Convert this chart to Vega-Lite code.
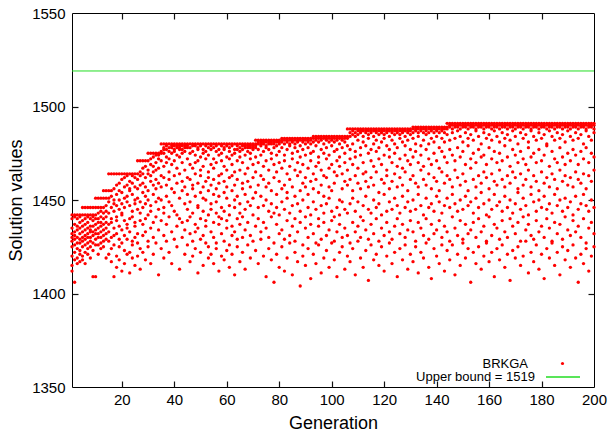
{"$schema":"https://vega.github.io/schema/vega-lite/v6.json","width":522,"height":374,"autosize":{"type":"none"},"padding":{"left":72,"top":13,"right":14,"bottom":49},"background":"white","config":{"view":{"stroke":"#000","strokeWidth":1},"font":"Liberation Sans","axis":{"domain":false,"grid":false,"labelColor":"#000","labelFont":"Liberation Sans","labelFontSize":15,"titleFont":"Liberation Sans","titleFontSize":18,"titleFontWeight":"normal","titleColor":"#000"},"legend":{"labelFont":"Liberation Sans","labelFontSize":13,"labelColor":"#000","labelAlign":"right","padding":0,"title":null,"orient":"none"}},
"data":{"values":[
{"g":1,"v":1442},{"g":1,"v":1440},{"g":1,"v":1435},{"g":1,"v":1432},{"g":1,"v":1430},{"g":1,"v":1428},{"g":1,"v":1425},{"g":1,"v":1420},{"g":1,"v":1415},{"g":1,"v":1412},
{"g":2,"v":1442},{"g":2,"v":1441},{"g":2,"v":1437},{"g":2,"v":1433},{"g":2,"v":1431},{"g":2,"v":1429},{"g":2,"v":1426},{"g":2,"v":1422},{"g":2,"v":1418},{"g":2,"v":1406},
{"g":3,"v":1442},{"g":3,"v":1440},{"g":3,"v":1436},{"g":3,"v":1434},{"g":3,"v":1430},{"g":3,"v":1427},{"g":3,"v":1424},{"g":3,"v":1419},{"g":3,"v":1416},
{"g":4,"v":1442},{"g":4,"v":1441},{"g":4,"v":1438},{"g":4,"v":1435},{"g":4,"v":1432},{"g":4,"v":1429},{"g":4,"v":1427},{"g":4,"v":1423},{"g":4,"v":1421},{"g":4,"v":1417},
{"g":5,"v":1446},{"g":5,"v":1442},{"g":5,"v":1439},{"g":5,"v":1436},{"g":5,"v":1433},{"g":5,"v":1430},{"g":5,"v":1428},{"g":5,"v":1425},{"g":5,"v":1420},{"g":5,"v":1418},
{"g":6,"v":1446},{"g":6,"v":1442},{"g":6,"v":1440},{"g":6,"v":1437},{"g":6,"v":1434},{"g":6,"v":1431},{"g":6,"v":1429},{"g":6,"v":1426},{"g":6,"v":1422},{"g":6,"v":1416},
{"g":7,"v":1446},{"g":7,"v":1442},{"g":7,"v":1441},{"g":7,"v":1438},{"g":7,"v":1435},{"g":7,"v":1432},{"g":7,"v":1430},{"g":7,"v":1427},{"g":7,"v":1424},{"g":7,"v":1421},
{"g":8,"v":1446},{"g":8,"v":1442},{"g":8,"v":1440},{"g":8,"v":1436},{"g":8,"v":1434},{"g":8,"v":1433},{"g":8,"v":1430},{"g":8,"v":1428},{"g":8,"v":1425},{"g":8,"v":1419},
{"g":9,"v":1446},{"g":9,"v":1442},{"g":9,"v":1441},{"g":9,"v":1439},{"g":9,"v":1436},{"g":9,"v":1433},{"g":9,"v":1431},{"g":9,"v":1427},{"g":9,"v":1423},{"g":9,"v":1409},
{"g":10,"v":1451},{"g":10,"v":1446},{"g":10,"v":1442},{"g":10,"v":1440},{"g":10,"v":1437},{"g":10,"v":1434},{"g":10,"v":1432},{"g":10,"v":1429},{"g":10,"v":1426},{"g":10,"v":1409},
{"g":11,"v":1451},{"g":11,"v":1446},{"g":11,"v":1443},{"g":11,"v":1440},{"g":11,"v":1438},{"g":11,"v":1435},{"g":11,"v":1432},{"g":11,"v":1430},{"g":11,"v":1426},{"g":11,"v":1421},
{"g":12,"v":1451},{"g":12,"v":1446},{"g":12,"v":1444},{"g":12,"v":1441},{"g":12,"v":1438},{"g":12,"v":1436},{"g":12,"v":1433},{"g":12,"v":1430},{"g":12,"v":1427},{"g":12,"v":1424},
{"g":13,"v":1455},{"g":13,"v":1451},{"g":13,"v":1446},{"g":13,"v":1443},{"g":13,"v":1440},{"g":13,"v":1437},{"g":13,"v":1434},{"g":13,"v":1431},{"g":13,"v":1428},{"g":13,"v":1425},
{"g":14,"v":1455},{"g":14,"v":1451},{"g":14,"v":1447},{"g":14,"v":1444},{"g":14,"v":1441},{"g":14,"v":1438},{"g":14,"v":1435},{"g":14,"v":1432},{"g":14,"v":1429},{"g":14,"v":1419},
{"g":15,"v":1464},{"g":15,"v":1455},{"g":15,"v":1451},{"g":15,"v":1449},{"g":15,"v":1443},{"g":15,"v":1437},{"g":15,"v":1433},{"g":15,"v":1428},{"g":15,"v":1421},
{"g":16,"v":1464},{"g":16,"v":1455},{"g":16,"v":1452},{"g":16,"v":1446},{"g":16,"v":1440},{"g":16,"v":1438},{"g":16,"v":1430},{"g":16,"v":1424},{"g":16,"v":1417},
{"g":17,"v":1464},{"g":17,"v":1456},{"g":17,"v":1450},{"g":17,"v":1448},{"g":17,"v":1444},{"g":17,"v":1435},{"g":17,"v":1431},{"g":17,"v":1426},{"g":17,"v":1409},
{"g":18,"v":1464},{"g":18,"v":1458},{"g":18,"v":1453},{"g":18,"v":1447},{"g":18,"v":1441},{"g":18,"v":1439},{"g":18,"v":1432},{"g":18,"v":1420},{"g":18,"v":1414},
{"g":19,"v":1464},{"g":19,"v":1459},{"g":19,"v":1455},{"g":19,"v":1450},{"g":19,"v":1445},{"g":19,"v":1436},{"g":19,"v":1429},{"g":19,"v":1425},{"g":19,"v":1418},
{"g":20,"v":1464},{"g":20,"v":1461},{"g":20,"v":1454},{"g":20,"v":1448},{"g":20,"v":1443},{"g":20,"v":1442},{"g":20,"v":1434},{"g":20,"v":1427},{"g":20,"v":1412},
{"g":21,"v":1464},{"g":21,"v":1462},{"g":21,"v":1457},{"g":21,"v":1451},{"g":21,"v":1446},{"g":21,"v":1439},{"g":21,"v":1431},{"g":21,"v":1423},{"g":21,"v":1416},
{"g":22,"v":1464},{"g":22,"v":1463},{"g":22,"v":1458},{"g":22,"v":1452},{"g":22,"v":1449},{"g":22,"v":1437},{"g":22,"v":1435},{"g":22,"v":1429},{"g":22,"v":1421},
{"g":23,"v":1464},{"g":23,"v":1460},{"g":23,"v":1456},{"g":23,"v":1455},{"g":23,"v":1447},{"g":23,"v":1440},{"g":23,"v":1433},{"g":23,"v":1422},{"g":23,"v":1411},
{"g":24,"v":1464},{"g":24,"v":1463},{"g":24,"v":1459},{"g":24,"v":1453},{"g":24,"v":1444},{"g":24,"v":1441},{"g":24,"v":1428},{"g":24,"v":1426},{"g":24,"v":1419},
{"g":25,"v":1464},{"g":25,"v":1462},{"g":25,"v":1457},{"g":25,"v":1450},{"g":25,"v":1448},{"g":25,"v":1438},{"g":25,"v":1436},{"g":25,"v":1430},{"g":25,"v":1415},
{"g":26,"v":1471},{"g":26,"v":1464},{"g":26,"v":1461},{"g":26,"v":1456},{"g":26,"v":1451},{"g":26,"v":1445},{"g":26,"v":1432},{"g":26,"v":1427},{"g":26,"v":1420},
{"g":27,"v":1471},{"g":27,"v":1465},{"g":27,"v":1463},{"g":27,"v":1458},{"g":27,"v":1449},{"g":27,"v":1443},{"g":27,"v":1439},{"g":27,"v":1424},{"g":27,"v":1413},
{"g":28,"v":1471},{"g":28,"v":1467},{"g":28,"v":1464},{"g":28,"v":1459},{"g":28,"v":1454},{"g":28,"v":1446},{"g":28,"v":1437},{"g":28,"v":1431},{"g":28,"v":1422},
{"g":29,"v":1471},{"g":29,"v":1468},{"g":29,"v":1462},{"g":29,"v":1457},{"g":29,"v":1452},{"g":29,"v":1448},{"g":29,"v":1440},{"g":29,"v":1433},{"g":29,"v":1418},
{"g":30,"v":1475},{"g":30,"v":1471},{"g":30,"v":1466},{"g":30,"v":1464},{"g":30,"v":1455},{"g":30,"v":1450},{"g":30,"v":1442},{"g":30,"v":1428},{"g":30,"v":1425},
{"g":31,"v":1475},{"g":31,"v":1472},{"g":31,"v":1469},{"g":31,"v":1463},{"g":31,"v":1460},{"g":31,"v":1447},{"g":31,"v":1444},{"g":31,"v":1435},{"g":31,"v":1416},
{"g":32,"v":1475},{"g":32,"v":1473},{"g":32,"v":1468},{"g":32,"v":1465},{"g":32,"v":1458},{"g":32,"v":1453},{"g":32,"v":1438},{"g":32,"v":1430},{"g":32,"v":1421},
{"g":33,"v":1475},{"g":33,"v":1474},{"g":33,"v":1470},{"g":33,"v":1466},{"g":33,"v":1461},{"g":33,"v":1456},{"g":33,"v":1449},{"g":33,"v":1441},{"g":33,"v":1427},
{"g":34,"v":1475},{"g":34,"v":1474},{"g":34,"v":1472},{"g":34,"v":1467},{"g":34,"v":1459},{"g":34,"v":1451},{"g":34,"v":1445},{"g":34,"v":1434},{"g":34,"v":1410},
{"g":35,"v":1480},{"g":35,"v":1476},{"g":35,"v":1475},{"g":35,"v":1471},{"g":35,"v":1463},{"g":35,"v":1457},{"g":35,"v":1450},{"g":35,"v":1439},{"g":35,"v":1424},
{"g":36,"v":1480},{"g":36,"v":1478},{"g":36,"v":1477},{"g":36,"v":1475},{"g":36,"v":1468},{"g":36,"v":1462},{"g":36,"v":1446},{"g":36,"v":1443},{"g":36,"v":1431},{"g":36,"v":1419},
{"g":37,"v":1480},{"g":37,"v":1479},{"g":37,"v":1477},{"g":37,"v":1473},{"g":37,"v":1470},{"g":37,"v":1458},{"g":37,"v":1452},{"g":37,"v":1437},{"g":37,"v":1428},
{"g":38,"v":1480},{"g":38,"v":1478},{"g":38,"v":1476},{"g":38,"v":1472},{"g":38,"v":1465},{"g":38,"v":1461},{"g":38,"v":1449},{"g":38,"v":1441},{"g":38,"v":1422},
{"g":39,"v":1480},{"g":39,"v":1479},{"g":39,"v":1478},{"g":39,"v":1475},{"g":39,"v":1469},{"g":39,"v":1456},{"g":39,"v":1447},{"g":39,"v":1433},{"g":39,"v":1416},
{"g":40,"v":1480},{"g":40,"v":1479},{"g":40,"v":1477},{"g":40,"v":1476},{"g":40,"v":1471},{"g":40,"v":1463},{"g":40,"v":1454},{"g":40,"v":1444},{"g":40,"v":1429},
{"g":41,"v":1480},{"g":41,"v":1479},{"g":41,"v":1478},{"g":41,"v":1474},{"g":41,"v":1467},{"g":41,"v":1459},{"g":41,"v":1442},{"g":41,"v":1436},{"g":41,"v":1425},
{"g":42,"v":1480},{"g":42,"v":1479},{"g":42,"v":1478},{"g":42,"v":1477},{"g":42,"v":1473},{"g":42,"v":1464},{"g":42,"v":1451},{"g":42,"v":1440},{"g":42,"v":1413},
{"g":43,"v":1480},{"g":43,"v":1479},{"g":43,"v":1477},{"g":43,"v":1475},{"g":43,"v":1470},{"g":43,"v":1460},{"g":43,"v":1455},{"g":43,"v":1438},{"g":43,"v":1430},
{"g":44,"v":1480},{"g":44,"v":1479},{"g":44,"v":1478},{"g":44,"v":1476},{"g":44,"v":1466},{"g":44,"v":1457},{"g":44,"v":1448},{"g":44,"v":1434},{"g":44,"v":1421},
{"g":45,"v":1480},{"g":45,"v":1479},{"g":45,"v":1478},{"g":45,"v":1472},{"g":45,"v":1462},{"g":45,"v":1453},{"g":45,"v":1445},{"g":45,"v":1439},{"g":45,"v":1426},
{"g":46,"v":1480},{"g":46,"v":1478},{"g":46,"v":1475},{"g":46,"v":1469},{"g":46,"v":1461},{"g":46,"v":1449},{"g":46,"v":1441},{"g":46,"v":1432},{"g":46,"v":1417},
{"g":47,"v":1480},{"g":47,"v":1479},{"g":47,"v":1476},{"g":47,"v":1467},{"g":47,"v":1458},{"g":47,"v":1456},{"g":47,"v":1443},{"g":47,"v":1428},{"g":47,"v":1420},
{"g":48,"v":1480},{"g":48,"v":1479},{"g":48,"v":1474},{"g":48,"v":1470},{"g":48,"v":1464},{"g":48,"v":1452},{"g":48,"v":1437},{"g":48,"v":1433},{"g":48,"v":1424},
{"g":49,"v":1480},{"g":49,"v":1478},{"g":49,"v":1477},{"g":49,"v":1471},{"g":49,"v":1459},{"g":49,"v":1447},{"g":49,"v":1446},{"g":49,"v":1435},{"g":49,"v":1411},
{"g":50,"v":1480},{"g":50,"v":1479},{"g":50,"v":1473},{"g":50,"v":1466},{"g":50,"v":1463},{"g":50,"v":1454},{"g":50,"v":1440},{"g":50,"v":1429},{"g":50,"v":1422},
{"g":51,"v":1480},{"g":51,"v":1477},{"g":51,"v":1475},{"g":51,"v":1468},{"g":51,"v":1457},{"g":51,"v":1451},{"g":51,"v":1444},{"g":51,"v":1431},{"g":51,"v":1415},
{"g":52,"v":1480},{"g":52,"v":1479},{"g":52,"v":1476},{"g":52,"v":1472},{"g":52,"v":1460},{"g":52,"v":1450},{"g":52,"v":1439},{"g":52,"v":1436},{"g":52,"v":1427},
{"g":53,"v":1480},{"g":53,"v":1478},{"g":53,"v":1474},{"g":53,"v":1465},{"g":53,"v":1462},{"g":53,"v":1455},{"g":53,"v":1442},{"g":53,"v":1425},{"g":53,"v":1419},
{"g":54,"v":1480},{"g":54,"v":1479},{"g":54,"v":1477},{"g":54,"v":1469},{"g":54,"v":1458},{"g":54,"v":1448},{"g":54,"v":1445},{"g":54,"v":1433},{"g":54,"v":1421},
{"g":55,"v":1480},{"g":55,"v":1478},{"g":55,"v":1472},{"g":55,"v":1467},{"g":55,"v":1461},{"g":55,"v":1453},{"g":55,"v":1438},{"g":55,"v":1430},{"g":55,"v":1416},
{"g":56,"v":1480},{"g":56,"v":1479},{"g":56,"v":1476},{"g":56,"v":1470},{"g":56,"v":1456},{"g":56,"v":1449},{"g":56,"v":1443},{"g":56,"v":1427},{"g":56,"v":1424},
{"g":57,"v":1480},{"g":57,"v":1477},{"g":57,"v":1474},{"g":57,"v":1463},{"g":57,"v":1459},{"g":57,"v":1452},{"g":57,"v":1441},{"g":57,"v":1437},{"g":57,"v":1412},
{"g":58,"v":1480},{"g":58,"v":1479},{"g":58,"v":1475},{"g":58,"v":1471},{"g":58,"v":1464},{"g":58,"v":1446},{"g":58,"v":1440},{"g":58,"v":1432},{"g":58,"v":1420},
{"g":59,"v":1480},{"g":59,"v":1478},{"g":59,"v":1477},{"g":59,"v":1468},{"g":59,"v":1460},{"g":59,"v":1454},{"g":59,"v":1444},{"g":59,"v":1428},{"g":59,"v":1418},
{"g":60,"v":1480},{"g":60,"v":1479},{"g":60,"v":1473},{"g":60,"v":1466},{"g":60,"v":1457},{"g":60,"v":1451},{"g":60,"v":1439},{"g":60,"v":1435},{"g":60,"v":1423},
{"g":61,"v":1480},{"g":61,"v":1478},{"g":61,"v":1476},{"g":61,"v":1472},{"g":61,"v":1462},{"g":61,"v":1447},{"g":61,"v":1442},{"g":61,"v":1426},{"g":61,"v":1414},
{"g":62,"v":1480},{"g":62,"v":1479},{"g":62,"v":1474},{"g":62,"v":1469},{"g":62,"v":1463},{"g":62,"v":1455},{"g":62,"v":1436},{"g":62,"v":1431},{"g":62,"v":1421},
{"g":63,"v":1480},{"g":63,"v":1477},{"g":63,"v":1475},{"g":63,"v":1465},{"g":63,"v":1458},{"g":63,"v":1450},{"g":63,"v":1446},{"g":63,"v":1433},{"g":63,"v":1410},
{"g":64,"v":1480},{"g":64,"v":1479},{"g":64,"v":1477},{"g":64,"v":1471},{"g":64,"v":1461},{"g":64,"v":1452},{"g":64,"v":1440},{"g":64,"v":1429},{"g":64,"v":1425},
{"g":65,"v":1480},{"g":65,"v":1478},{"g":65,"v":1476},{"g":65,"v":1473},{"g":65,"v":1466},{"g":65,"v":1448},{"g":65,"v":1443},{"g":65,"v":1437},{"g":65,"v":1417},
{"g":66,"v":1480},{"g":66,"v":1479},{"g":66,"v":1477},{"g":66,"v":1470},{"g":66,"v":1459},{"g":66,"v":1456},{"g":66,"v":1441},{"g":66,"v":1430},{"g":66,"v":1422},
{"g":67,"v":1480},{"g":67,"v":1479},{"g":67,"v":1478},{"g":67,"v":1474},{"g":67,"v":1464},{"g":67,"v":1453},{"g":67,"v":1445},{"g":67,"v":1434},{"g":67,"v":1413},
{"g":68,"v":1480},{"g":68,"v":1479},{"g":68,"v":1478},{"g":68,"v":1476},{"g":68,"v":1467},{"g":68,"v":1460},{"g":68,"v":1449},{"g":68,"v":1438},{"g":68,"v":1426},
{"g":69,"v":1480},{"g":69,"v":1479},{"g":69,"v":1478},{"g":69,"v":1475},{"g":69,"v":1472},{"g":69,"v":1457},{"g":69,"v":1447},{"g":69,"v":1431},{"g":69,"v":1419},
{"g":70,"v":1480},{"g":70,"v":1479},{"g":70,"v":1478},{"g":70,"v":1477},{"g":70,"v":1469},{"g":70,"v":1462},{"g":70,"v":1451},{"g":70,"v":1442},{"g":70,"v":1428},
{"g":71,"v":1482},{"g":71,"v":1480},{"g":71,"v":1479},{"g":71,"v":1478},{"g":71,"v":1473},{"g":71,"v":1465},{"g":71,"v":1454},{"g":71,"v":1436},{"g":71,"v":1423},
{"g":72,"v":1482},{"g":72,"v":1481},{"g":72,"v":1480},{"g":72,"v":1477},{"g":72,"v":1470},{"g":72,"v":1458},{"g":72,"v":1446},{"g":72,"v":1440},{"g":72,"v":1416},
{"g":73,"v":1482},{"g":73,"v":1481},{"g":73,"v":1480},{"g":73,"v":1479},{"g":73,"v":1474},{"g":73,"v":1463},{"g":73,"v":1452},{"g":73,"v":1433},{"g":73,"v":1429},
{"g":74,"v":1482},{"g":74,"v":1481},{"g":74,"v":1480},{"g":74,"v":1476},{"g":74,"v":1468},{"g":74,"v":1461},{"g":74,"v":1447},{"g":74,"v":1438},{"g":74,"v":1420},
{"g":75,"v":1482},{"g":75,"v":1481},{"g":75,"v":1479},{"g":75,"v":1478},{"g":75,"v":1471},{"g":75,"v":1457},{"g":75,"v":1450},{"g":75,"v":1435},{"g":75,"v":1409},
{"g":76,"v":1482},{"g":76,"v":1481},{"g":76,"v":1480},{"g":76,"v":1477},{"g":76,"v":1466},{"g":76,"v":1459},{"g":76,"v":1444},{"g":76,"v":1430},{"g":76,"v":1424},
{"g":77,"v":1482},{"g":77,"v":1481},{"g":77,"v":1480},{"g":77,"v":1475},{"g":77,"v":1472},{"g":77,"v":1455},{"g":77,"v":1448},{"g":77,"v":1441},{"g":77,"v":1418},
{"g":78,"v":1482},{"g":78,"v":1481},{"g":78,"v":1480},{"g":78,"v":1478},{"g":78,"v":1469},{"g":78,"v":1462},{"g":78,"v":1443},{"g":78,"v":1427},{"g":78,"v":1406},
{"g":79,"v":1482},{"g":79,"v":1481},{"g":79,"v":1479},{"g":79,"v":1474},{"g":79,"v":1465},{"g":79,"v":1453},{"g":79,"v":1446},{"g":79,"v":1437},{"g":79,"v":1421},
{"g":80,"v":1482},{"g":80,"v":1481},{"g":80,"v":1480},{"g":80,"v":1476},{"g":80,"v":1470},{"g":80,"v":1460},{"g":80,"v":1442},{"g":80,"v":1432},{"g":80,"v":1414},
{"g":81,"v":1483},{"g":81,"v":1482},{"g":81,"v":1481},{"g":81,"v":1478},{"g":81,"v":1467},{"g":81,"v":1456},{"g":81,"v":1449},{"g":81,"v":1434},{"g":81,"v":1425},
{"g":82,"v":1483},{"g":82,"v":1482},{"g":82,"v":1480},{"g":82,"v":1474},{"g":82,"v":1471},{"g":82,"v":1458},{"g":82,"v":1445},{"g":82,"v":1429},{"g":82,"v":1412},
{"g":83,"v":1483},{"g":83,"v":1482},{"g":83,"v":1481},{"g":83,"v":1477},{"g":83,"v":1464},{"g":83,"v":1454},{"g":83,"v":1451},{"g":83,"v":1439},{"g":83,"v":1419},
{"g":84,"v":1483},{"g":84,"v":1482},{"g":84,"v":1480},{"g":84,"v":1479},{"g":84,"v":1468},{"g":84,"v":1461},{"g":84,"v":1443},{"g":84,"v":1431},{"g":84,"v":1427},
{"g":85,"v":1483},{"g":85,"v":1482},{"g":85,"v":1481},{"g":85,"v":1475},{"g":85,"v":1472},{"g":85,"v":1457},{"g":85,"v":1447},{"g":85,"v":1436},{"g":85,"v":1410},
{"g":86,"v":1483},{"g":86,"v":1482},{"g":86,"v":1480},{"g":86,"v":1478},{"g":86,"v":1466},{"g":86,"v":1452},{"g":86,"v":1440},{"g":86,"v":1428},{"g":86,"v":1422},
{"g":87,"v":1483},{"g":87,"v":1482},{"g":87,"v":1481},{"g":87,"v":1476},{"g":87,"v":1470},{"g":87,"v":1463},{"g":87,"v":1448},{"g":87,"v":1433},{"g":87,"v":1417},
{"g":88,"v":1483},{"g":88,"v":1482},{"g":88,"v":1479},{"g":88,"v":1473},{"g":88,"v":1465},{"g":88,"v":1455},{"g":88,"v":1444},{"g":88,"v":1438},{"g":88,"v":1404},
{"g":89,"v":1483},{"g":89,"v":1482},{"g":89,"v":1481},{"g":89,"v":1477},{"g":89,"v":1469},{"g":89,"v":1459},{"g":89,"v":1450},{"g":89,"v":1426},{"g":89,"v":1420},
{"g":90,"v":1483},{"g":90,"v":1482},{"g":90,"v":1480},{"g":90,"v":1474},{"g":90,"v":1462},{"g":90,"v":1457},{"g":90,"v":1441},{"g":90,"v":1435},{"g":90,"v":1415},
{"g":91,"v":1483},{"g":91,"v":1482},{"g":91,"v":1481},{"g":91,"v":1478},{"g":91,"v":1467},{"g":91,"v":1453},{"g":91,"v":1446},{"g":91,"v":1430},{"g":91,"v":1424},
{"g":92,"v":1483},{"g":92,"v":1482},{"g":92,"v":1480},{"g":92,"v":1475},{"g":92,"v":1471},{"g":92,"v":1460},{"g":92,"v":1442},{"g":92,"v":1437},{"g":92,"v":1408},
{"g":93,"v":1484},{"g":93,"v":1483},{"g":93,"v":1481},{"g":93,"v":1476},{"g":93,"v":1464},{"g":93,"v":1456},{"g":93,"v":1449},{"g":93,"v":1432},{"g":93,"v":1421},
{"g":94,"v":1484},{"g":94,"v":1483},{"g":94,"v":1482},{"g":94,"v":1479},{"g":94,"v":1468},{"g":94,"v":1461},{"g":94,"v":1445},{"g":94,"v":1427},{"g":94,"v":1416},
{"g":95,"v":1484},{"g":95,"v":1483},{"g":95,"v":1481},{"g":95,"v":1473},{"g":95,"v":1470},{"g":95,"v":1454},{"g":95,"v":1440},{"g":95,"v":1436},{"g":95,"v":1426},
{"g":96,"v":1484},{"g":96,"v":1483},{"g":96,"v":1482},{"g":96,"v":1477},{"g":96,"v":1466},{"g":96,"v":1458},{"g":96,"v":1447},{"g":96,"v":1429},{"g":96,"v":1411},
{"g":97,"v":1484},{"g":97,"v":1483},{"g":97,"v":1480},{"g":97,"v":1475},{"g":97,"v":1463},{"g":97,"v":1452},{"g":97,"v":1443},{"g":97,"v":1438},{"g":97,"v":1419},
{"g":98,"v":1484},{"g":98,"v":1483},{"g":98,"v":1482},{"g":98,"v":1478},{"g":98,"v":1472},{"g":98,"v":1462},{"g":98,"v":1448},{"g":98,"v":1431},{"g":98,"v":1423},
{"g":99,"v":1484},{"g":99,"v":1483},{"g":99,"v":1481},{"g":99,"v":1474},{"g":99,"v":1467},{"g":99,"v":1457},{"g":99,"v":1451},{"g":99,"v":1434},{"g":99,"v":1414},
{"g":100,"v":1484},{"g":100,"v":1483},{"g":100,"v":1482},{"g":100,"v":1479},{"g":100,"v":1469},{"g":100,"v":1455},{"g":100,"v":1444},{"g":100,"v":1439},{"g":100,"v":1427},
{"g":101,"v":1484},{"g":101,"v":1483},{"g":101,"v":1481},{"g":101,"v":1476},{"g":101,"v":1465},{"g":101,"v":1459},{"g":101,"v":1441},{"g":101,"v":1428},{"g":101,"v":1418},
{"g":102,"v":1484},{"g":102,"v":1483},{"g":102,"v":1482},{"g":102,"v":1477},{"g":102,"v":1471},{"g":102,"v":1463},{"g":102,"v":1446},{"g":102,"v":1433},{"g":102,"v":1409},
{"g":103,"v":1484},{"g":103,"v":1483},{"g":103,"v":1480},{"g":103,"v":1473},{"g":103,"v":1468},{"g":103,"v":1450},{"g":103,"v":1442},{"g":103,"v":1437},{"g":103,"v":1422},
{"g":104,"v":1484},{"g":104,"v":1483},{"g":104,"v":1482},{"g":104,"v":1478},{"g":104,"v":1464},{"g":104,"v":1456},{"g":104,"v":1449},{"g":104,"v":1430},{"g":104,"v":1425},
{"g":105,"v":1484},{"g":105,"v":1483},{"g":105,"v":1481},{"g":105,"v":1475},{"g":105,"v":1470},{"g":105,"v":1460},{"g":105,"v":1445},{"g":105,"v":1435},{"g":105,"v":1413},
{"g":106,"v":1488},{"g":106,"v":1484},{"g":106,"v":1483},{"g":106,"v":1479},{"g":106,"v":1466},{"g":106,"v":1458},{"g":106,"v":1443},{"g":106,"v":1431},{"g":106,"v":1420},
{"g":107,"v":1488},{"g":107,"v":1486},{"g":107,"v":1484},{"g":107,"v":1477},{"g":107,"v":1472},{"g":107,"v":1461},{"g":107,"v":1448},{"g":107,"v":1427},{"g":107,"v":1417},
{"g":108,"v":1488},{"g":108,"v":1487},{"g":108,"v":1485},{"g":108,"v":1480},{"g":108,"v":1469},{"g":108,"v":1455},{"g":108,"v":1451},{"g":108,"v":1438},{"g":108,"v":1424},
{"g":109,"v":1488},{"g":109,"v":1486},{"g":109,"v":1484},{"g":109,"v":1476},{"g":109,"v":1473},{"g":109,"v":1463},{"g":109,"v":1444},{"g":109,"v":1433},{"g":109,"v":1410},
{"g":110,"v":1488},{"g":110,"v":1487},{"g":110,"v":1485},{"g":110,"v":1482},{"g":110,"v":1467},{"g":110,"v":1459},{"g":110,"v":1449},{"g":110,"v":1436},{"g":110,"v":1428},
{"g":111,"v":1488},{"g":111,"v":1487},{"g":111,"v":1486},{"g":111,"v":1478},{"g":111,"v":1474},{"g":111,"v":1456},{"g":111,"v":1441},{"g":111,"v":1430},{"g":111,"v":1419},
{"g":112,"v":1488},{"g":112,"v":1487},{"g":112,"v":1484},{"g":112,"v":1481},{"g":112,"v":1470},{"g":112,"v":1464},{"g":112,"v":1447},{"g":112,"v":1439},{"g":112,"v":1414},
{"g":113,"v":1488},{"g":113,"v":1487},{"g":113,"v":1486},{"g":113,"v":1479},{"g":113,"v":1465},{"g":113,"v":1460},{"g":113,"v":1452},{"g":113,"v":1434},{"g":113,"v":1423},
{"g":114,"v":1488},{"g":114,"v":1487},{"g":114,"v":1485},{"g":114,"v":1483},{"g":114,"v":1475},{"g":114,"v":1457},{"g":114,"v":1445},{"g":114,"v":1429},{"g":114,"v":1407},
{"g":115,"v":1488},{"g":115,"v":1487},{"g":115,"v":1486},{"g":115,"v":1477},{"g":115,"v":1471},{"g":115,"v":1462},{"g":115,"v":1443},{"g":115,"v":1437},{"g":115,"v":1426},
{"g":116,"v":1488},{"g":116,"v":1487},{"g":116,"v":1484},{"g":116,"v":1480},{"g":116,"v":1468},{"g":116,"v":1458},{"g":116,"v":1450},{"g":116,"v":1432},{"g":116,"v":1418},
{"g":117,"v":1488},{"g":117,"v":1487},{"g":117,"v":1486},{"g":117,"v":1482},{"g":117,"v":1476},{"g":117,"v":1465},{"g":117,"v":1446},{"g":117,"v":1440},{"g":117,"v":1421},
{"g":118,"v":1488},{"g":118,"v":1487},{"g":118,"v":1485},{"g":118,"v":1478},{"g":118,"v":1472},{"g":118,"v":1454},{"g":118,"v":1448},{"g":118,"v":1428},{"g":118,"v":1415},
{"g":119,"v":1488},{"g":119,"v":1487},{"g":119,"v":1486},{"g":119,"v":1481},{"g":119,"v":1469},{"g":119,"v":1461},{"g":119,"v":1442},{"g":119,"v":1435},{"g":119,"v":1425},
{"g":120,"v":1488},{"g":120,"v":1487},{"g":120,"v":1485},{"g":120,"v":1483},{"g":120,"v":1474},{"g":120,"v":1459},{"g":120,"v":1453},{"g":120,"v":1431},{"g":120,"v":1412},
{"g":121,"v":1488},{"g":121,"v":1487},{"g":121,"v":1486},{"g":121,"v":1479},{"g":121,"v":1466},{"g":121,"v":1463},{"g":121,"v":1444},{"g":121,"v":1438},{"g":121,"v":1420},
{"g":122,"v":1488},{"g":122,"v":1487},{"g":122,"v":1484},{"g":122,"v":1477},{"g":122,"v":1473},{"g":122,"v":1456},{"g":122,"v":1449},{"g":122,"v":1433},{"g":122,"v":1427},
{"g":123,"v":1488},{"g":123,"v":1487},{"g":123,"v":1486},{"g":123,"v":1482},{"g":123,"v":1470},{"g":123,"v":1460},{"g":123,"v":1445},{"g":123,"v":1429},{"g":123,"v":1416},
{"g":124,"v":1488},{"g":124,"v":1487},{"g":124,"v":1485},{"g":124,"v":1480},{"g":124,"v":1475},{"g":124,"v":1464},{"g":124,"v":1451},{"g":124,"v":1436},{"g":124,"v":1422},
{"g":125,"v":1488},{"g":125,"v":1487},{"g":125,"v":1486},{"g":125,"v":1478},{"g":125,"v":1468},{"g":125,"v":1457},{"g":125,"v":1447},{"g":125,"v":1440},{"g":125,"v":1409},
{"g":126,"v":1488},{"g":126,"v":1487},{"g":126,"v":1485},{"g":126,"v":1483},{"g":126,"v":1472},{"g":126,"v":1462},{"g":126,"v":1443},{"g":126,"v":1432},{"g":126,"v":1424},
{"g":127,"v":1488},{"g":127,"v":1487},{"g":127,"v":1486},{"g":127,"v":1481},{"g":127,"v":1467},{"g":127,"v":1458},{"g":127,"v":1452},{"g":127,"v":1437},{"g":127,"v":1418},
{"g":128,"v":1488},{"g":128,"v":1487},{"g":128,"v":1484},{"g":128,"v":1479},{"g":128,"v":1474},{"g":128,"v":1465},{"g":128,"v":1446},{"g":128,"v":1430},{"g":128,"v":1426},
{"g":129,"v":1488},{"g":129,"v":1487},{"g":129,"v":1486},{"g":129,"v":1482},{"g":129,"v":1471},{"g":129,"v":1455},{"g":129,"v":1449},{"g":129,"v":1434},{"g":129,"v":1413},
{"g":130,"v":1488},{"g":130,"v":1487},{"g":130,"v":1485},{"g":130,"v":1477},{"g":130,"v":1469},{"g":130,"v":1461},{"g":130,"v":1444},{"g":130,"v":1439},{"g":130,"v":1421},
{"g":131,"v":1489},{"g":131,"v":1488},{"g":131,"v":1486},{"g":131,"v":1483},{"g":131,"v":1473},{"g":131,"v":1463},{"g":131,"v":1450},{"g":131,"v":1433},{"g":131,"v":1417},
{"g":132,"v":1489},{"g":132,"v":1488},{"g":132,"v":1487},{"g":132,"v":1480},{"g":132,"v":1476},{"g":132,"v":1459},{"g":132,"v":1445},{"g":132,"v":1428},{"g":132,"v":1425},
{"g":133,"v":1489},{"g":133,"v":1488},{"g":133,"v":1486},{"g":133,"v":1484},{"g":133,"v":1470},{"g":133,"v":1457},{"g":133,"v":1453},{"g":133,"v":1438},{"g":133,"v":1411},
{"g":134,"v":1489},{"g":134,"v":1488},{"g":134,"v":1487},{"g":134,"v":1479},{"g":134,"v":1474},{"g":134,"v":1466},{"g":134,"v":1447},{"g":134,"v":1435},{"g":134,"v":1422},
{"g":135,"v":1489},{"g":135,"v":1488},{"g":135,"v":1486},{"g":135,"v":1482},{"g":135,"v":1468},{"g":135,"v":1461},{"g":135,"v":1442},{"g":135,"v":1431},{"g":135,"v":1419},
{"g":136,"v":1489},{"g":136,"v":1488},{"g":136,"v":1487},{"g":136,"v":1485},{"g":136,"v":1477},{"g":136,"v":1458},{"g":136,"v":1451},{"g":136,"v":1440},{"g":136,"v":1427},
{"g":137,"v":1489},{"g":137,"v":1488},{"g":137,"v":1486},{"g":137,"v":1480},{"g":137,"v":1472},{"g":137,"v":1464},{"g":137,"v":1446},{"g":137,"v":1429},{"g":137,"v":1414},
{"g":138,"v":1489},{"g":138,"v":1488},{"g":138,"v":1487},{"g":138,"v":1483},{"g":138,"v":1469},{"g":138,"v":1456},{"g":138,"v":1448},{"g":138,"v":1437},{"g":138,"v":1408},
{"g":139,"v":1489},{"g":139,"v":1488},{"g":139,"v":1486},{"g":139,"v":1481},{"g":139,"v":1475},{"g":139,"v":1462},{"g":139,"v":1444},{"g":139,"v":1432},{"g":139,"v":1424},
{"g":140,"v":1489},{"g":140,"v":1488},{"g":140,"v":1487},{"g":140,"v":1484},{"g":140,"v":1471},{"g":140,"v":1460},{"g":140,"v":1452},{"g":140,"v":1434},{"g":140,"v":1420},
{"g":141,"v":1489},{"g":141,"v":1488},{"g":141,"v":1486},{"g":141,"v":1478},{"g":141,"v":1467},{"g":141,"v":1455},{"g":141,"v":1449},{"g":141,"v":1439},{"g":141,"v":1416},
{"g":142,"v":1489},{"g":142,"v":1488},{"g":142,"v":1487},{"g":142,"v":1483},{"g":142,"v":1476},{"g":142,"v":1465},{"g":142,"v":1443},{"g":142,"v":1430},{"g":142,"v":1426},
{"g":143,"v":1489},{"g":143,"v":1488},{"g":143,"v":1486},{"g":143,"v":1481},{"g":143,"v":1473},{"g":143,"v":1459},{"g":143,"v":1447},{"g":143,"v":1436},{"g":143,"v":1412},
{"g":144,"v":1491},{"g":144,"v":1489},{"g":144,"v":1488},{"g":144,"v":1485},{"g":144,"v":1470},{"g":144,"v":1463},{"g":144,"v":1451},{"g":144,"v":1433},{"g":144,"v":1423},
{"g":145,"v":1491},{"g":145,"v":1490},{"g":145,"v":1489},{"g":145,"v":1482},{"g":145,"v":1477},{"g":145,"v":1461},{"g":145,"v":1446},{"g":145,"v":1428},{"g":145,"v":1418},
{"g":146,"v":1491},{"g":146,"v":1490},{"g":146,"v":1488},{"g":146,"v":1486},{"g":146,"v":1474},{"g":146,"v":1457},{"g":146,"v":1453},{"g":146,"v":1441},{"g":146,"v":1426},
{"g":147,"v":1491},{"g":147,"v":1490},{"g":147,"v":1489},{"g":147,"v":1483},{"g":147,"v":1471},{"g":147,"v":1466},{"g":147,"v":1448},{"g":147,"v":1435},{"g":147,"v":1410},
{"g":148,"v":1491},{"g":148,"v":1490},{"g":148,"v":1489},{"g":148,"v":1487},{"g":148,"v":1478},{"g":148,"v":1462},{"g":148,"v":1444},{"g":148,"v":1431},{"g":148,"v":1421},
{"g":149,"v":1491},{"g":149,"v":1490},{"g":149,"v":1488},{"g":149,"v":1484},{"g":149,"v":1473},{"g":149,"v":1458},{"g":149,"v":1450},{"g":149,"v":1439},{"g":149,"v":1415},
{"g":150,"v":1491},{"g":150,"v":1490},{"g":150,"v":1489},{"g":150,"v":1481},{"g":150,"v":1476},{"g":150,"v":1464},{"g":150,"v":1445},{"g":150,"v":1429},{"g":150,"v":1427},
{"g":151,"v":1491},{"g":151,"v":1490},{"g":151,"v":1489},{"g":151,"v":1486},{"g":151,"v":1469},{"g":151,"v":1460},{"g":151,"v":1452},{"g":151,"v":1437},{"g":151,"v":1419},
{"g":152,"v":1491},{"g":152,"v":1490},{"g":152,"v":1488},{"g":152,"v":1483},{"g":152,"v":1479},{"g":152,"v":1455},{"g":152,"v":1447},{"g":152,"v":1432},{"g":152,"v":1424},
{"g":153,"v":1491},{"g":153,"v":1490},{"g":153,"v":1489},{"g":153,"v":1485},{"g":153,"v":1472},{"g":153,"v":1467},{"g":153,"v":1449},{"g":153,"v":1434},{"g":153,"v":1406},
{"g":154,"v":1491},{"g":154,"v":1490},{"g":154,"v":1489},{"g":154,"v":1482},{"g":154,"v":1475},{"g":154,"v":1461},{"g":154,"v":1443},{"g":154,"v":1438},{"g":154,"v":1422},
{"g":155,"v":1491},{"g":155,"v":1490},{"g":155,"v":1488},{"g":155,"v":1487},{"g":155,"v":1470},{"g":155,"v":1457},{"g":155,"v":1451},{"g":155,"v":1430},{"g":155,"v":1416},
{"g":156,"v":1491},{"g":156,"v":1490},{"g":156,"v":1489},{"g":156,"v":1484},{"g":156,"v":1477},{"g":156,"v":1463},{"g":156,"v":1446},{"g":156,"v":1440},{"g":156,"v":1425},
{"g":157,"v":1491},{"g":157,"v":1490},{"g":157,"v":1489},{"g":157,"v":1480},{"g":157,"v":1473},{"g":157,"v":1459},{"g":157,"v":1454},{"g":157,"v":1433},{"g":157,"v":1413},
{"g":158,"v":1491},{"g":158,"v":1490},{"g":158,"v":1488},{"g":158,"v":1486},{"g":158,"v":1474},{"g":158,"v":1465},{"g":158,"v":1448},{"g":158,"v":1436},{"g":158,"v":1420},
{"g":159,"v":1491},{"g":159,"v":1490},{"g":159,"v":1489},{"g":159,"v":1483},{"g":159,"v":1469},{"g":159,"v":1462},{"g":159,"v":1442},{"g":159,"v":1428},{"g":159,"v":1427},
{"g":160,"v":1491},{"g":160,"v":1490},{"g":160,"v":1489},{"g":160,"v":1485},{"g":160,"v":1478},{"g":160,"v":1456},{"g":160,"v":1450},{"g":160,"v":1441},{"g":160,"v":1417},
{"g":161,"v":1491},{"g":161,"v":1490},{"g":161,"v":1488},{"g":161,"v":1482},{"g":161,"v":1472},{"g":161,"v":1464},{"g":161,"v":1445},{"g":161,"v":1431},{"g":161,"v":1422},
{"g":162,"v":1491},{"g":162,"v":1490},{"g":162,"v":1489},{"g":162,"v":1487},{"g":162,"v":1476},{"g":162,"v":1460},{"g":162,"v":1453},{"g":162,"v":1437},{"g":162,"v":1409},
{"g":163,"v":1491},{"g":163,"v":1490},{"g":163,"v":1489},{"g":163,"v":1484},{"g":163,"v":1470},{"g":163,"v":1458},{"g":163,"v":1447},{"g":163,"v":1435},{"g":163,"v":1424},
{"g":164,"v":1491},{"g":164,"v":1490},{"g":164,"v":1488},{"g":164,"v":1481},{"g":164,"v":1475},{"g":164,"v":1466},{"g":164,"v":1449},{"g":164,"v":1429},{"g":164,"v":1418},
{"g":165,"v":1491},{"g":165,"v":1490},{"g":165,"v":1489},{"g":165,"v":1486},{"g":165,"v":1471},{"g":165,"v":1461},{"g":165,"v":1444},{"g":165,"v":1439},{"g":165,"v":1426},
{"g":166,"v":1491},{"g":166,"v":1490},{"g":166,"v":1489},{"g":166,"v":1483},{"g":166,"v":1479},{"g":166,"v":1457},{"g":166,"v":1452},{"g":166,"v":1433},{"g":166,"v":1414},
{"g":167,"v":1491},{"g":167,"v":1490},{"g":167,"v":1488},{"g":167,"v":1485},{"g":167,"v":1473},{"g":167,"v":1463},{"g":167,"v":1446},{"g":167,"v":1430},{"g":167,"v":1421},
{"g":168,"v":1491},{"g":168,"v":1490},{"g":168,"v":1489},{"g":168,"v":1482},{"g":168,"v":1468},{"g":168,"v":1459},{"g":168,"v":1450},{"g":168,"v":1440},{"g":168,"v":1407},
{"g":169,"v":1491},{"g":169,"v":1490},{"g":169,"v":1489},{"g":169,"v":1487},{"g":169,"v":1477},{"g":169,"v":1465},{"g":169,"v":1443},{"g":169,"v":1436},{"g":169,"v":1423},
{"g":170,"v":1491},{"g":170,"v":1490},{"g":170,"v":1488},{"g":170,"v":1484},{"g":170,"v":1474},{"g":170,"v":1462},{"g":170,"v":1448},{"g":170,"v":1432},{"g":170,"v":1419},
{"g":171,"v":1491},{"g":171,"v":1490},{"g":171,"v":1489},{"g":171,"v":1480},{"g":171,"v":1470},{"g":171,"v":1456},{"g":171,"v":1454},{"g":171,"v":1438},{"g":171,"v":1425},
{"g":172,"v":1491},{"g":172,"v":1490},{"g":172,"v":1489},{"g":172,"v":1486},{"g":172,"v":1476},{"g":172,"v":1464},{"g":172,"v":1445},{"g":172,"v":1428},{"g":172,"v":1415},
{"g":173,"v":1491},{"g":173,"v":1490},{"g":173,"v":1488},{"g":173,"v":1483},{"g":173,"v":1472},{"g":173,"v":1458},{"g":173,"v":1451},{"g":173,"v":1441},{"g":173,"v":1420},
{"g":174,"v":1491},{"g":174,"v":1490},{"g":174,"v":1489},{"g":174,"v":1485},{"g":174,"v":1469},{"g":174,"v":1461},{"g":174,"v":1447},{"g":174,"v":1434},{"g":174,"v":1428},
{"g":175,"v":1491},{"g":175,"v":1490},{"g":175,"v":1489},{"g":175,"v":1481},{"g":175,"v":1478},{"g":175,"v":1466},{"g":175,"v":1442},{"g":175,"v":1437},{"g":175,"v":1411},
{"g":176,"v":1491},{"g":176,"v":1490},{"g":176,"v":1488},{"g":176,"v":1487},{"g":176,"v":1473},{"g":176,"v":1457},{"g":176,"v":1453},{"g":176,"v":1431},{"g":176,"v":1422},
{"g":177,"v":1491},{"g":177,"v":1490},{"g":177,"v":1489},{"g":177,"v":1484},{"g":177,"v":1475},{"g":177,"v":1463},{"g":177,"v":1449},{"g":177,"v":1429},{"g":177,"v":1417},
{"g":178,"v":1491},{"g":178,"v":1490},{"g":178,"v":1489},{"g":178,"v":1482},{"g":178,"v":1470},{"g":178,"v":1460},{"g":178,"v":1444},{"g":178,"v":1439},{"g":178,"v":1426},
{"g":179,"v":1491},{"g":179,"v":1490},{"g":179,"v":1488},{"g":179,"v":1486},{"g":179,"v":1477},{"g":179,"v":1455},{"g":179,"v":1450},{"g":179,"v":1433},{"g":179,"v":1413},
{"g":180,"v":1491},{"g":180,"v":1490},{"g":180,"v":1489},{"g":180,"v":1483},{"g":180,"v":1471},{"g":180,"v":1465},{"g":180,"v":1446},{"g":180,"v":1436},{"g":180,"v":1421},
{"g":181,"v":1491},{"g":181,"v":1490},{"g":181,"v":1489},{"g":181,"v":1485},{"g":181,"v":1474},{"g":181,"v":1459},{"g":181,"v":1452},{"g":181,"v":1430},{"g":181,"v":1408},
{"g":182,"v":1491},{"g":182,"v":1490},{"g":182,"v":1488},{"g":182,"v":1480},{"g":182,"v":1479},{"g":182,"v":1462},{"g":182,"v":1445},{"g":182,"v":1440},{"g":182,"v":1424},
{"g":183,"v":1491},{"g":183,"v":1490},{"g":183,"v":1489},{"g":183,"v":1487},{"g":183,"v":1468},{"g":183,"v":1457},{"g":183,"v":1448},{"g":183,"v":1435},{"g":183,"v":1419},
{"g":184,"v":1491},{"g":184,"v":1490},{"g":184,"v":1489},{"g":184,"v":1484},{"g":184,"v":1476},{"g":184,"v":1464},{"g":184,"v":1443},{"g":184,"v":1428},{"g":184,"v":1427},
{"g":185,"v":1491},{"g":185,"v":1490},{"g":185,"v":1488},{"g":185,"v":1482},{"g":185,"v":1472},{"g":185,"v":1461},{"g":185,"v":1453},{"g":185,"v":1438},{"g":185,"v":1415},
{"g":186,"v":1491},{"g":186,"v":1490},{"g":186,"v":1489},{"g":186,"v":1486},{"g":186,"v":1470},{"g":186,"v":1456},{"g":186,"v":1447},{"g":186,"v":1432},{"g":186,"v":1422},
{"g":187,"v":1491},{"g":187,"v":1490},{"g":187,"v":1489},{"g":187,"v":1483},{"g":187,"v":1478},{"g":187,"v":1466},{"g":187,"v":1450},{"g":187,"v":1437},{"g":187,"v":1410},
{"g":188,"v":1491},{"g":188,"v":1490},{"g":188,"v":1488},{"g":188,"v":1485},{"g":188,"v":1473},{"g":188,"v":1460},{"g":188,"v":1444},{"g":188,"v":1429},{"g":188,"v":1425},
{"g":189,"v":1491},{"g":189,"v":1490},{"g":189,"v":1489},{"g":189,"v":1481},{"g":189,"v":1469},{"g":189,"v":1463},{"g":189,"v":1451},{"g":189,"v":1441},{"g":189,"v":1418},
{"g":190,"v":1491},{"g":190,"v":1490},{"g":190,"v":1489},{"g":190,"v":1487},{"g":190,"v":1475},{"g":190,"v":1458},{"g":190,"v":1446},{"g":190,"v":1434},{"g":190,"v":1423},
{"g":191,"v":1491},{"g":191,"v":1490},{"g":191,"v":1488},{"g":191,"v":1484},{"g":191,"v":1471},{"g":191,"v":1462},{"g":191,"v":1449},{"g":191,"v":1431},{"g":191,"v":1414},
{"g":192,"v":1491},{"g":192,"v":1490},{"g":192,"v":1489},{"g":192,"v":1482},{"g":192,"v":1477},{"g":192,"v":1457},{"g":192,"v":1442},{"g":192,"v":1439},{"g":192,"v":1426},
{"g":193,"v":1491},{"g":193,"v":1490},{"g":193,"v":1489},{"g":193,"v":1486},{"g":193,"v":1474},{"g":193,"v":1465},{"g":193,"v":1452},{"g":193,"v":1433},{"g":193,"v":1419},
{"g":194,"v":1491},{"g":194,"v":1490},{"g":194,"v":1488},{"g":194,"v":1483},{"g":194,"v":1469},{"g":194,"v":1461},{"g":194,"v":1445},{"g":194,"v":1436},{"g":194,"v":1406},
{"g":195,"v":1491},{"g":195,"v":1490},{"g":195,"v":1489},{"g":195,"v":1485},{"g":195,"v":1476},{"g":195,"v":1459},{"g":195,"v":1448},{"g":195,"v":1430},{"g":195,"v":1421},
{"g":196,"v":1491},{"g":196,"v":1490},{"g":196,"v":1489},{"g":196,"v":1480},{"g":196,"v":1472},{"g":196,"v":1464},{"g":196,"v":1453},{"g":196,"v":1440},{"g":196,"v":1416},
{"g":197,"v":1491},{"g":197,"v":1490},{"g":197,"v":1488},{"g":197,"v":1487},{"g":197,"v":1478},{"g":197,"v":1456},{"g":197,"v":1447},{"g":197,"v":1427},{"g":197,"v":1424},
{"g":198,"v":1491},{"g":198,"v":1490},{"g":198,"v":1489},{"g":198,"v":1484},{"g":198,"v":1470},{"g":198,"v":1463},{"g":198,"v":1444},{"g":198,"v":1435},{"g":198,"v":1412},
{"g":199,"v":1491},{"g":199,"v":1490},{"g":199,"v":1489},{"g":199,"v":1482},{"g":199,"v":1475},{"g":199,"v":1460},{"g":199,"v":1450},{"g":199,"v":1438},{"g":199,"v":1420},
{"g":200,"v":1491},{"g":200,"v":1490},{"g":200,"v":1488},{"g":200,"v":1486},{"g":200,"v":1473},{"g":200,"v":1466},{"g":200,"v":1446},{"g":200,"v":1432},{"g":200,"v":1425}
]},
"layer":[
{"mark":{"type":"circle","size":11,"opacity":1},"encoding":{"x":{"field":"g","type":"quantitative","scale":{"domain":[1,200],"nice":false,"zero":false},"axis":{"orient":"bottom","values":[20,40,60,80,100,120,140,160,180,200],"tickSize":0,"labelPadding":5,"labelFlush":false,"title":"Generation","titlePadding":7}},"y":{"field":"v","type":"quantitative","scale":{"domain":[1350,1550],"nice":false,"zero":false},"axis":{"orient":"left","values":[1350,1400,1450,1500,1550],"format":"d","tickSize":0,"labelPadding":7,"title":"Solution values","titlePadding":6}},"fill":{"datum":"BRKGA","type":"nominal","scale":{"domain":["BRKGA"],"range":["#ff0000"]},"legend":{"legendX":484,"legendY":344,"symbolSize":10,"symbolType":"circle","labelOffset":-41}}}},
{"mark":{"type":"circle","opacity":0},"encoding":{"x":{"field":"g","type":"quantitative","axis":{"orient":"top","offset":-374,"values":[20,40,60,80,100,120,140,160,180],"tickColor":"#111","tickSize":6,"tickWidth":1.2,"labels":false,"title":null}},"y":{"field":"v","type":"quantitative","axis":{"orient":"right","offset":-522,"values":[1400,1450,1500],"tickColor":"#111","tickSize":6,"tickWidth":1.2,"labels":false,"title":null}}}},
{"mark":{"type":"circle","opacity":0},"encoding":{"x":{"field":"g","type":"quantitative","axis":{"orient":"bottom","offset":-374,"values":[20,40,60,80,100,120,140,160,180],"tickColor":"#111","tickSize":6,"tickWidth":1.2,"labels":false,"title":null}},"y":{"field":"v","type":"quantitative","axis":{"orient":"left","offset":-522,"values":[1400,1450,1500],"tickColor":"#111","tickSize":6,"tickWidth":1.2,"labels":false,"title":null}}}},
{"data":{"values":[{"u":1519}]},"mark":{"type":"rule","strokeWidth":1},"encoding":{"y":{"field":"u","type":"quantitative","axis":null},"stroke":{"datum":"Upper bound = 1519","type":"nominal","scale":{"domain":["Upper bound = 1519"],"range":["#22dd22"]},"legend":{"legendX":473,"legendY":346,"symbolSize":1156,"symbolStrokeWidth":1.5,"symbolType":"stroke","labelOffset":-46}}}}
],"resolve":{"axis":{"x":"independent","y":"independent"}}}
